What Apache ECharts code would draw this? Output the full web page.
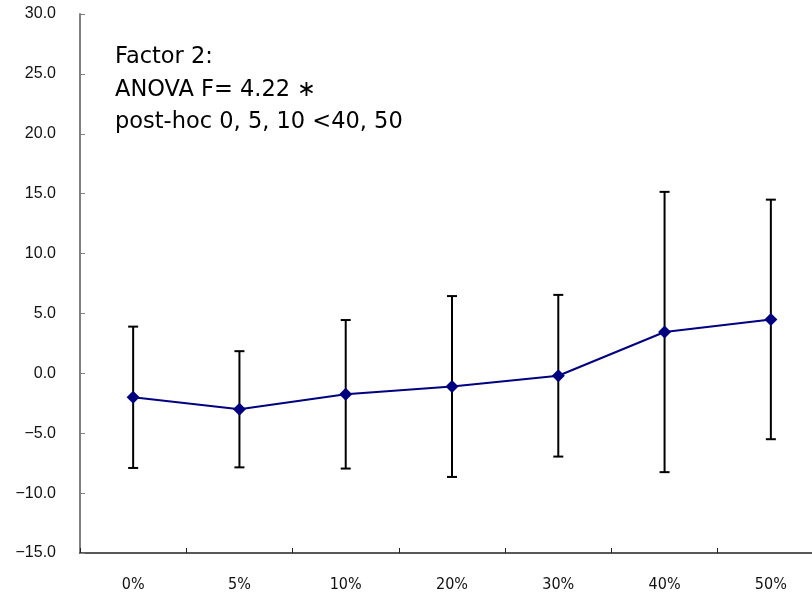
<!DOCTYPE html>
<html>
<head>
<meta charset="utf-8">
<script src="https://cdn.jsdelivr.net/npm/echarts@6/dist/echarts.min.js"></script>
<style>
  html, body { margin: 0; padding: 0; background: #fff; }
  #chart { width: 812px; height: 600px; }
</style>
</head>
<body>
<div id="chart"></div>
<script>
// Group labels on the category axis
const categories = ['0%', '5%', '10%', '20%', '30%', '40%', '50%'];
// Group means and standard deviations
const means = [-2.0, -3.0, -1.75, -1.1, -0.2, 3.45, 4.5];
const sds = [5.9, 4.85, 6.2, 7.55, 6.75, 11.7, 10.0];
// Value axis range
const yMin = -15;
const yMax = 30;
const yStep = 5;
// Statistics note
const noteLines = ['Factor 2:', 'ANOVA F= 4.22 \u2217', 'post-hoc 0, 5, 10 <40, 50'];

const errorData = categories.map((c, i) => [i, means[i] - sds[i], means[i] + sds[i]]);

function renderErrorBar(params, api) {
  const x = api.value(0);
  const lo = api.coord([x, api.value(1)]);
  const hi = api.coord([x, api.value(2)]);
  const half = 5;
  const style = { stroke: '#000', lineWidth: 2, fill: null };
  return {
    type: 'group',
    children: [
      { type: 'line', shape: { x1: lo[0], y1: lo[1], x2: hi[0], y2: hi[1] }, style },
      { type: 'line', shape: { x1: hi[0] - half, y1: hi[1], x2: hi[0] + half, y2: hi[1] }, style },
      { type: 'line', shape: { x1: lo[0] - half, y1: lo[1], x2: lo[0] + half, y2: lo[1] }, style }
    ]
  };
}

const chart = echarts.init(document.getElementById('chart'), null, { renderer: 'canvas' });
chart.setOption({
  animation: false,
  backgroundColor: '#fff',
  // the plot runs slightly past the right edge of the canvas
  grid: { left: 80, right: -12, top: 14, bottom: 47, containLabel: false, outerBoundsMode: 'none' },
  xAxis: {
    type: 'category',
    data: categories,
    boundaryGap: true,
    axisLine: { show: true, onZero: false, lineStyle: { color: '#222', width: 1.5 } },
    axisTick: { show: true, inside: true, length: 5, alignWithLabel: false, lineStyle: { color: '#222', width: 1 } },
    axisLabel: {
      margin: 24,
      color: '#111',
      fontSize: 16,
      fontFamily: '"DejaVu Sans Condensed", "Liberation Sans", sans-serif'
    },
    splitLine: { show: false }
  },
  yAxis: {
    type: 'value',
    min: yMin,
    max: yMax,
    interval: yStep,
    axisLine: { show: true, lineStyle: { color: '#808080', width: 2 } },
    axisTick: { show: true, inside: true, length: 5, lineStyle: { color: '#808080', width: 1 } },
    axisLabel: {
      margin: 24,
      color: '#111',
      fontSize: 16,
      fontFamily: '"Liberation Sans", Arial, sans-serif',
      formatter: v => v.toFixed(1).replace('-', '\u2212')
    },
    splitLine: { show: false }
  },
  series: [
    {
      type: 'custom',
      name: 'SD',
      renderItem: renderErrorBar,
      data: errorData,
      encode: { x: 0, y: [1, 2] },
      z: 1
    },
    {
      type: 'line',
      name: 'Mean',
      data: means,
      symbol: 'diamond',
      symbolSize: 13,
      itemStyle: { color: '#000080' },
      lineStyle: { color: '#000080', width: 2 },
      z: 3
    }
  ],
  graphic: [
    {
      type: 'text',
      left: 115,
      top: 41,
      style: {
        text: noteLines.join('\n'),
        fontSize: 22.5,
        lineHeight: 32.5,
        fill: '#000',
        fontFamily: '"DejaVu Sans", "Noto Sans", sans-serif'
      }
    }
  ]
});
</script>
</body>
</html>
